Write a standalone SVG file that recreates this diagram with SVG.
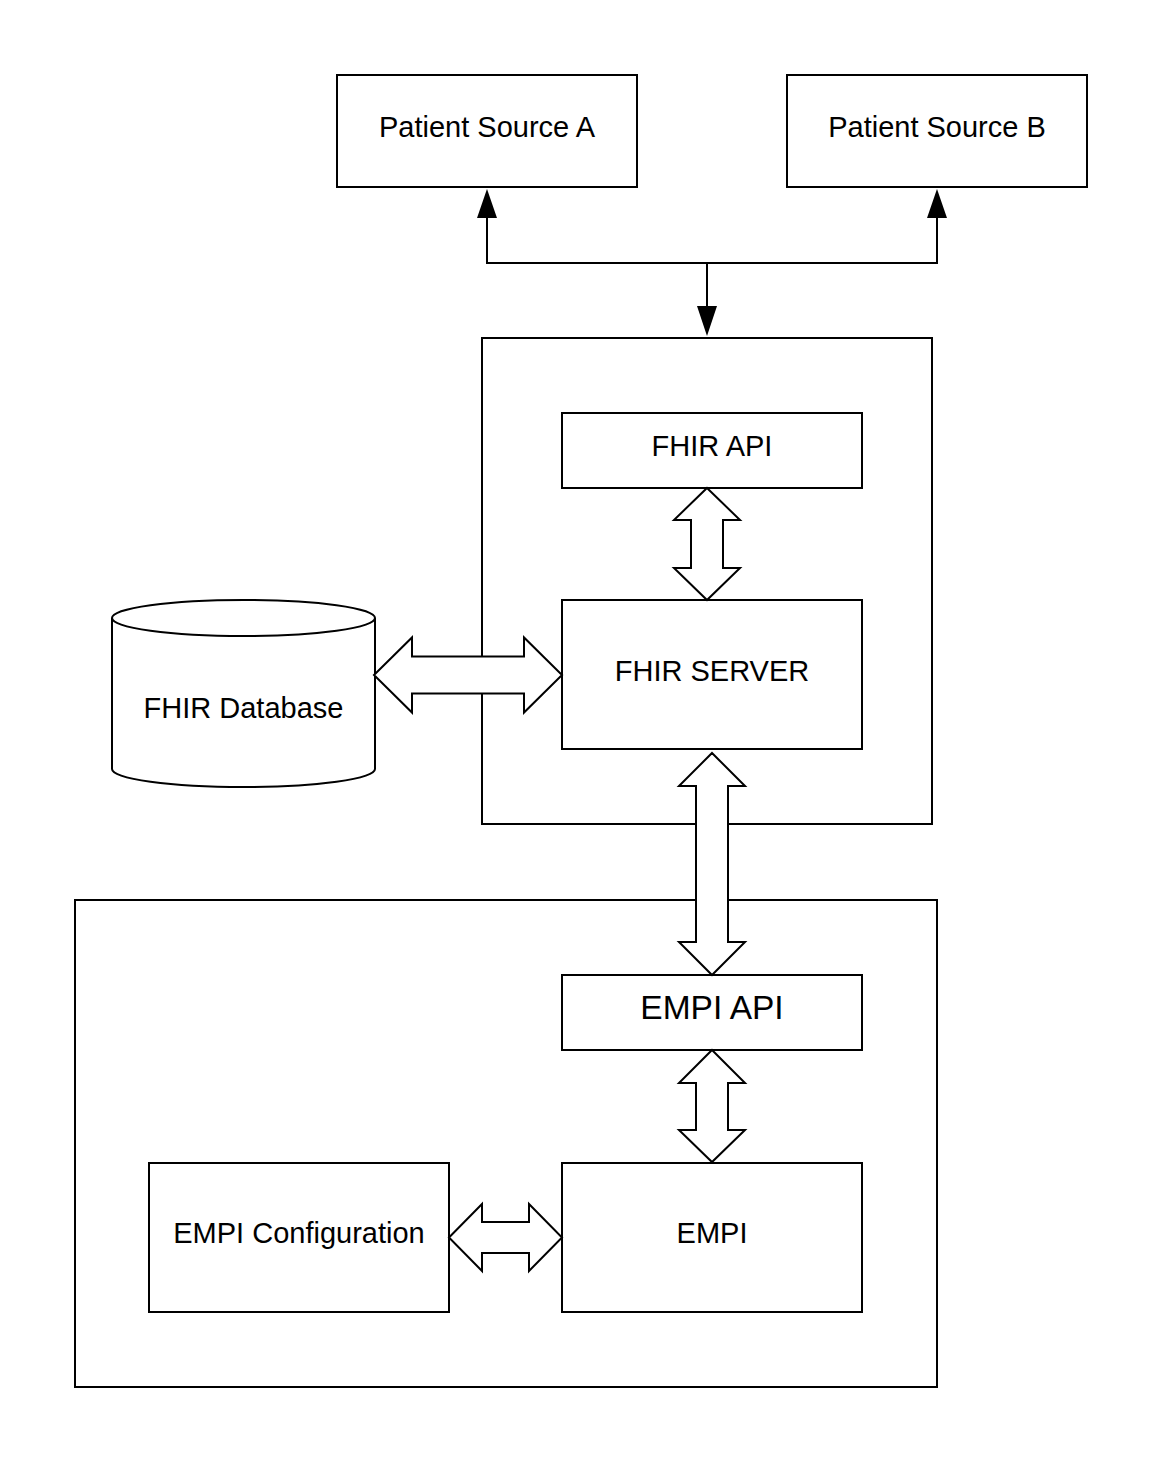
<svg xmlns="http://www.w3.org/2000/svg" width="1163" height="1463" viewBox="0 0 1163 1463">
  <style>
    .box { fill: #ffffff; stroke: #000000; stroke-width: 2; }
    .lbl { font-family: "Liberation Sans", Arial, sans-serif; font-size: 29px; fill: #000000; text-anchor: middle; }
    .big { font-size: 33.5px; }
    .line { fill: none; stroke: #000000; stroke-width: 2; }
    .head { fill: #000000; stroke: none; }
    .block { fill: #ffffff; stroke: #000000; stroke-width: 2; stroke-linejoin: miter; }
  </style>
  <rect width="1163" height="1463" fill="#ffffff"/>

  <g id="fhir-container">
    <rect class="box" x="482" y="338" width="450" height="486"/>
  </g>
  <g id="empi-container">
    <rect class="box" x="75" y="900" width="862" height="487"/>
  </g>

  <g id="patient-source-a">
    <rect class="box" x="337" y="75" width="300" height="112"/>
    <text class="lbl" x="487" y="137">Patient Source A</text>
  </g>
  <g id="patient-source-b">
    <rect class="box" x="787" y="75" width="300" height="112"/>
    <text class="lbl" x="937" y="137">Patient Source B</text>
  </g>
  <g id="fhir-api">
    <rect class="box" x="562" y="413" width="300" height="75"/>
    <text class="lbl" x="712" y="456">FHIR API</text>
  </g>
  <g id="fhir-server">
    <rect class="box" x="562" y="600" width="300" height="149"/>
    <text class="lbl" x="712" y="681">FHIR SERVER</text>
  </g>
  <g id="fhir-database">
    <path class="box" d="M112,618 L112,769 A131.5,18 0 0 0 375,769 L375,618 A131.5,18 0 0 0 112,618 Z"/>
    <path class="line" d="M112,618 A131.5,18 0 0 0 375,618"/>
    <text class="lbl" x="243.5" y="718">FHIR Database</text>
  </g>
  <g id="empi-api">
    <rect class="box" x="562" y="975" width="300" height="75"/>
    <text class="lbl big" x="712" y="1019">EMPI API</text>
  </g>
  <g id="empi">
    <rect class="box" x="562" y="1163" width="300" height="149"/>
    <text class="lbl" x="712" y="1243">EMPI</text>
  </g>
  <g id="empi-configuration">
    <rect class="box" x="149" y="1163" width="300" height="149"/>
    <text class="lbl" x="299" y="1243">EMPI Configuration</text>
  </g>

  <g id="connectors">
    <path class="line" d="M487,216 L487,263 L937,263 L937,216"/>
    <path class="line" d="M707,263 L707,308"/>
    <polygon class="head" points="487,189 497,218 477,218"/>
    <polygon class="head" points="937,189 947,218 927,218"/>
    <polygon class="head" points="707,336 717,306 697,306"/>

    <polygon class="block" points="707,488 740,520 723,520 723,568 740,568 707,600 674,568 691,568 691,520 674,520"/>
    <polygon class="block" points="712,753 745,786 728,786 728,942 745,942 712,975 679,942 696,942 696,786 679,786"/>
    <polygon class="block" points="712,1050 745,1083 728,1083 728,1130 745,1130 712,1162 679,1130 696,1130 696,1083 679,1083"/>
    <polygon class="block" points="374,675 412,637.5 412,656.5 524,656.5 524,637.5 562,675 524,712.5 524,693.5 412,693.5 412,712.5"/>
    <polygon class="block" points="449,1237.5 482,1204 482,1222 529,1222 529,1204 562,1237.5 529,1271 529,1253 482,1253 482,1271"/>
  </g>
</svg>
